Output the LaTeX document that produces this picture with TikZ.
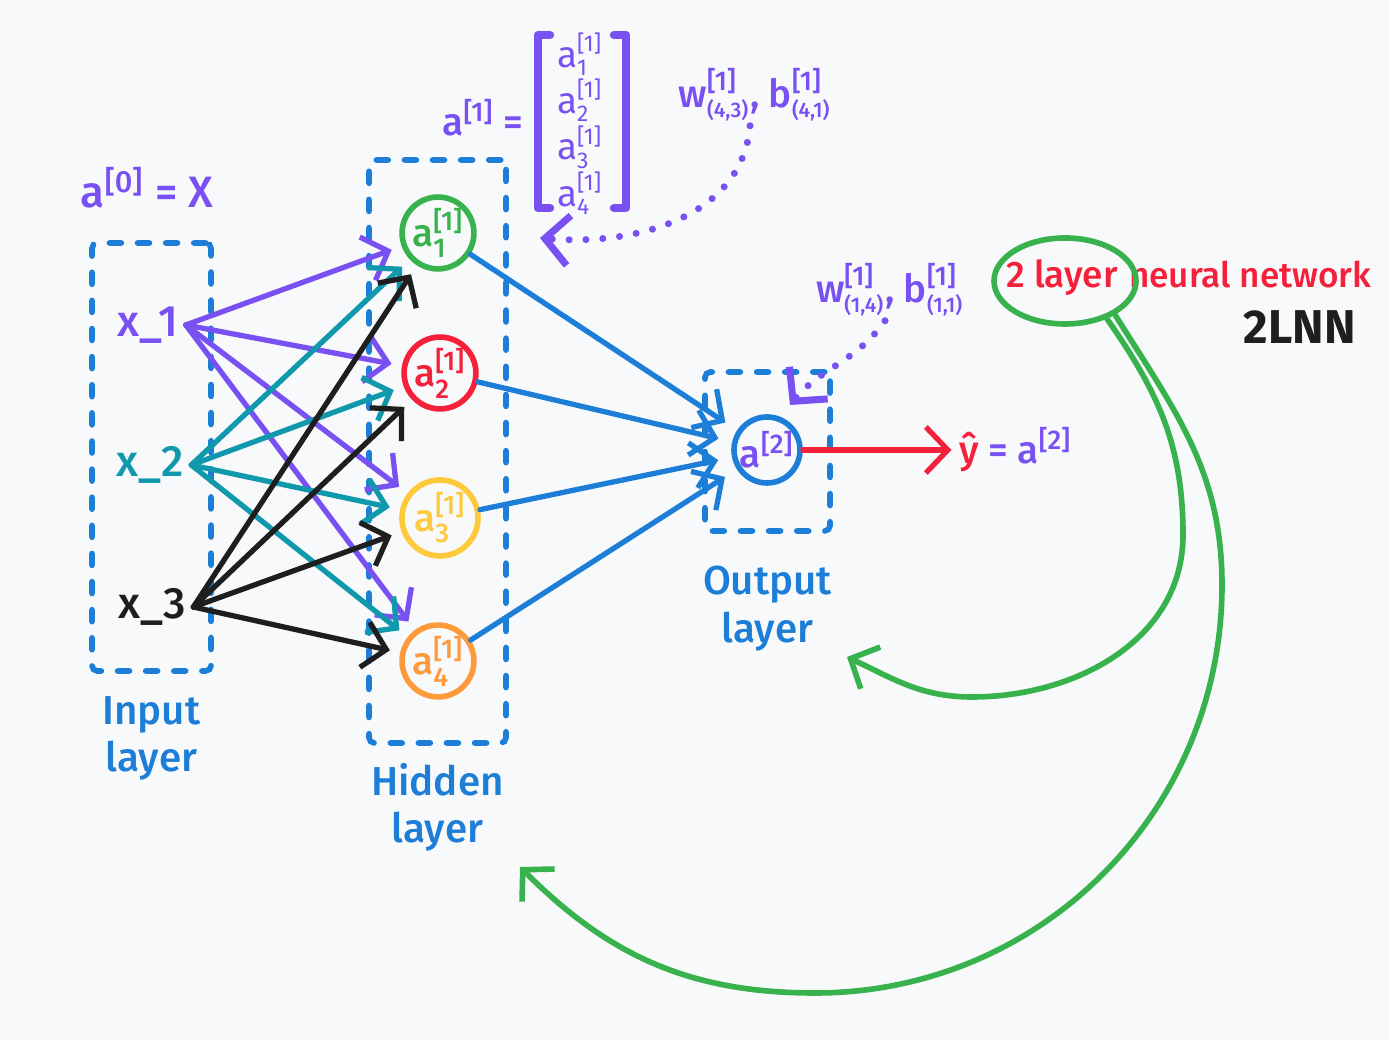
\documentclass[tikz,border=0pt]{standalone}
\usepackage{amsmath}
\usepackage{fontspec}
\setmainfont{Fira Sans}[UprightFont=* Medium, BoldFont=* Bold]
\newfontfamily\vecfont{Fira Sans}
\usetikzlibrary{arrows.meta,calc,positioning,shapes.geometric}

\definecolor{nnbg}{HTML}{F8F9FB}
\definecolor{nnblue}{HTML}{1C7ED6}
\definecolor{nnviolet}{HTML}{7950F2}
\definecolor{nnteal}{HTML}{1098AD}
\definecolor{nngreen}{HTML}{37B24D}
\definecolor{nnred}{HTML}{F5203A}
\definecolor{nnyellow}{HTML}{FFC93C}
\definecolor{nnorange}{HTML}{FF9A3C}
\definecolor{nnblack}{HTML}{1E1E1E}

% activation with layer index and unit index
\newcommand\act[3]{#1$^{\text{[#2]}}_{\text{#3}}$}
\newcommand\actsm[3]{#1$^{\text{\fontsize{6.5}{7}\selectfont[#2]}}_{\text{\fontsize{6.5}{7}\selectfont#3}}$}
% parameter with its shape below
\newcommand\dimlbl[3]{#1$^{\text{[#2]}}_{\text{\fontsize{6}{7}\selectfont#3}}$}

\tikzset{
  layerbox/.style = {draw=nnblue, line width=1.6pt, dash pattern=on 3.4pt off 4.6pt,
                     line cap=round, rounded corners=1.5pt, inner sep=0pt},
  neuron/.style   = {circle, draw=#1, text=#1, line width=1.6pt, inner sep=0pt,
                     minimum size=0.66cm, font=\fontsize{11}{12}\selectfont},
  xin/.style      = {text=#1, font=\fontsize{12.5}{14}\selectfont, inner sep=2pt},
  lbl/.style      = {text=nnblue, align=center, font=\fontsize{11.5}{13.5}\selectfont},
  vlbl/.style     = {text=nnviolet, font=\fontsize{11}{12}\selectfont, inner sep=1pt},
  wire/.style     = {draw=#1, line width=1.5pt, line cap=round, line join=round,
                     shorten >=3pt, -{Straight Barb[length=2.2mm, width=4.6mm]}},
  dotwire/.style  = {draw=nnviolet, line width=2pt, line cap=round,
                     dash pattern=on 0pt off 4.8pt,
                     -{Straight Barb[length=2.4mm, width=5mm]}},
  bracket/.style  = {nnviolet, line width=2.4pt, line cap=round, line join=round},
  ring/.style     = {ellipse, draw=nngreen, line width=1.6pt, minimum width=1.42cm,
                     minimum height=0.86cm, inner sep=0pt},
  backarc/.style  = {nngreen, line width=1.6pt, line cap=round, line join=round,
                     -{Straight Barb[length=2.2mm, width=4.6mm]}},
}

\begin{document}
\begin{tikzpicture}[x=1cm, y=1cm]
  \fill[nnbg] (0,0) rectangle (13.89,10.40);
  \useasboundingbox (0,0) rectangle (13.89,10.40);

  %--- layer boxes ------------------------------------
  \node[layerbox, minimum width=1.19cm, minimum height=4.28cm] (inbox)  at (1.515,5.83)  {};
  \node[layerbox, minimum width=1.37cm, minimum height=5.83cm] (hidbox) at (4.375,5.885) {};
  \node[layerbox, minimum width=1.25cm, minimum height=1.59cm] (outbox) at (7.675,5.885) {};
  \node[lbl, below=1mm of inbox]    (inlab)  {Input\\layer};
  \node[lbl, below=0.5mm of hidbox] (hidlab) {Hidden\\layer};
  \node[lbl, below=2mm of outbox]   (outlab) {Output\\layer};

  %--- units ------------------------------------------
  \node[xin=nnviolet] (x1) at (1.48,7.15) {x\_1};
  \node[xin=nnteal]   (x2) at (1.50,5.75) {x\_2};
  \node[xin=nnblack]  (x3) at (1.52,4.33) {x\_3};
  \node[vlbl, font=\fontsize{12.5}{14}\selectfont] (a0) at (1.47,8.52) {a$^{\text{[0]}}$ = X};

  \node[neuron=nngreen]  (h1) at (4.38,8.07) {\act{a}{1}{1}};
  \node[neuron=nnred]    (h2) at (4.40,6.67) {\act{a}{1}{2}};
  \node[neuron=nnyellow, minimum size=0.76cm] (h3) at (4.40,5.22) {\act{a}{1}{3}};
  \node[neuron=nnorange, minimum size=0.68cm] (h4) at (4.38,3.79) {\act{a}{1}{4}};
  \node[neuron=nnblue]   (out) at (7.67,5.90) {\textcolor{nnviolet}{a$^{\text{[2]}}$}};

  %--- connections ------------------------------------
  \foreach \i/\c in {1/nnviolet,2/nnteal,3/nnblack}
    \foreach \j in {1,...,4}
      \draw[wire=\c] (x\i.east) -- (h\j);
  \foreach \j in {1,...,4}
    \draw[wire=nnblue, shorten >=4pt] (h\j) -- (out);

  \node[vlbl, anchor=west, font=\fontsize{11}{13}\selectfont] (yhat) at (9.55,5.90)
       {\textcolor{nnred}{ŷ} = a$^{\text{[2]}}$};
  \draw[wire=nnred, shorten >=1pt] (out) -- (out -| yhat.west);

  %--- a^[1] as a column ------------------------------
  \node[vlbl] (aeq) at (4.83,9.22) {a$^{\text{[1]}}$ =};
  \foreach \k/\y in {1/9.86, 2/9.40, 3/8.93, 4/8.47}
    \node[vlbl, inner sep=0pt, font=\vecfont\fontsize{10.5}{11}\selectfont] (av\k) at (5.80,\y) {\actsm{a}{1}{\k}};
  \draw[bracket] ($(av1)+(-0.30,0.19)$) -- ++(-0.12,0) |- ($(av4)+(-0.30,-0.15)$);
  \draw[bracket] ($(av1)+(0.34,0.19)$) -- ++(0.12,0) |- ($(av4)+(0.34,-0.15)$);

  %--- parameter shapes -------------------------------
  \node[vlbl] (wb1) at (7.55,9.45) {\dimlbl{w}{1}{(4,3)},\ \dimlbl{b}{1}{(4,1)}};
  \node[vlbl] (wb2) at (8.90,7.50) {\dimlbl{w}{1}{(1,4)},\ \dimlbl{b}{1}{(1,1)}};
  \coordinate (vecin) at (5.40,8.02);
  \coordinate (outin) at (7.90,6.35);
  \draw[dotwire] ([xshift=-0.5mm]wb1.south) to[out=-95, in=-5] (vecin);
  \draw[dotwire] ([xshift=-0.5mm]wb2.south) to[out=-125, in=50] (outin);

  %--- title ------------------------------------------
  \node[text=nnred, font=\fontsize{10.5}{12}\selectfont] (lay) at (10.62,7.62) {2 layer};
  \node[text=nnred, font=\fontsize{10}{12}\selectfont, anchor=base west, inner sep=0pt]
       (nnet) at ([xshift=-0.5pt]lay.base east) {neural network};
  \node[ring] (ring) at (10.65,7.59) {};
  \node[anchor=east, text=nnblack, font=\bfseries\fontsize{13.5}{15}\selectfont]
       (lnn) at (13.68,7.13) {2LNN};

  \coordinate (outhint) at (8.47,3.83);
  \coordinate (hidhint) at (5.20,1.73);
  \draw[backarc] (ring.-42) to[out=-55, in=90] (11.83,5.05)
                 to[out=-90, in=0] (9.72,3.43) to[out=180, in=-25] (outhint);
  \draw[backarc] (ring.-34) to[out=-58, in=90] (12.22,4.55)
                 to[out=-90, in=0] (8.15,0.47) to[out=180, in=-45] (hidhint);
\end{tikzpicture}
\end{document}
